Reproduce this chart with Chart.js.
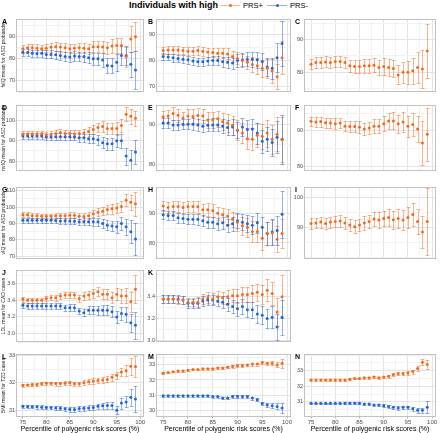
<!DOCTYPE html>
<html>
<head>
<meta charset="utf-8">
<script src="https://cdn.jsdelivr.net/npm/chart.js@4.4.1/dist/chart.umd.min.js"></script>
<style>
  body { margin: 0; width: 440px; height: 433px; background: #fff; position: relative; overflow: hidden;
         font-family: "Liberation Sans", Arial, sans-serif; }
  canvas { position: absolute; }
  .tag { position: absolute; font-weight: bold; font-size: 7px; line-height: 7px; color: #000; }
  .lg { position: absolute; white-space: nowrap; color: #000; }
  .key { position: absolute; }
</style>
</head>
<body>
<div class="lg" style="left:129px;top:0px;font-size:9px;font-weight:bold;line-height:10px">Individuals with high</div>
<div class="key" style="left:220px;top:4.5px;width:20px;height:1.5px;background:rgba(242,107,30,0.5)"></div>
<div class="key" style="left:229px;top:4px;width:3px;height:3px;border-radius:2px;background:#F26B1E"></div>
<div class="lg" style="left:243px;top:1px;font-size:7.5px;line-height:9px">PRS+</div>
<div class="key" style="left:267px;top:4.5px;width:20px;height:1.5px;background:rgba(37,99,217,0.5)"></div>
<div class="key" style="left:276px;top:4px;width:3px;height:3px;border-radius:2px;background:#2563D9"></div>
<div class="lg" style="left:290px;top:1px;font-size:7.5px;line-height:9px">PRS-</div>
<script>
// percentile bins on the x axis
const pct = [75, 76, 77, 78, 79, 80, 81, 82, 83, 84, 85, 86, 87, 88, 89, 90, 91, 92, 93, 94, 95, 96, 97, 98, 99];
const xMajor = [75, 80, 85, 90, 95, 100];

// A: fsIQ, ASD probands
const aPlus = [84.5, 85.0, 85.0, 84.8, 84.5, 84.8, 85.2, 85.5, 85.3, 85.0, 84.5, 84.8, 85.0, 84.8, 84.5, 85.5, 85.5, 85.3, 85.0, 85.8, 86.0, 86.0, 81.0, 89.0, 90.0];
const aPlusErr = [1.8, 1.8, 1.8, 1.8, 1.8, 1.9, 1.9, 1.9, 2.0, 2.0, 2.0, 2.1, 2.2, 2.2, 2.3, 2.5, 2.6, 2.7, 2.8, 3.0, 3.2, 3.5, 4.5, 6.0, 6.5];
const aMinus = [83.0, 82.8, 82.5, 82.3, 82.5, 82.0, 82.0, 81.8, 81.5, 81.0, 80.8, 81.3, 81.0, 81.0, 80.5, 80.0, 80.0, 79.5, 77.0, 76.8, 78.5, 81.5, 81.5, 77.5, 75.0];
const aMinusErr = [1.6, 1.6, 1.7, 1.7, 1.7, 1.8, 1.8, 1.9, 2.0, 2.0, 2.1, 2.1, 2.2, 2.3, 2.4, 2.6, 2.8, 3.0, 3.2, 3.4, 3.8, 4.2, 4.5, 5.5, 8.5];
// B
const bPlus = [83.8, 84.0, 84.0, 84.0, 83.8, 83.5, 83.5, 83.8, 83.5, 83.2, 83.0, 82.8, 82.8, 82.5, 81.5, 80.8, 80.0, 79.3, 78.5, 78.0, 77.0, 77.0, 76.0, 73.8, 81.0];
const bPlusErr = [1.4, 1.4, 1.4, 1.5, 1.5, 1.5, 1.6, 1.6, 1.7, 1.7, 1.8, 1.9, 2.0, 2.1, 2.2, 2.3, 2.5, 2.6, 2.8, 3.0, 3.2, 3.5, 4.5, 4.8, 6.3];
const bMinus = [81.5, 81.3, 81.0, 80.8, 80.5, 80.3, 79.8, 79.5, 79.5, 79.8, 80.0, 80.0, 79.5, 79.3, 79.0, 80.0, 80.3, 80.5, 80.5, 80.3, 79.5, 77.5, 77.0, 81.0, 86.5];
const bMinusErr = [1.3, 1.3, 1.4, 1.4, 1.4, 1.5, 1.5, 1.6, 1.6, 1.7, 1.8, 1.8, 1.9, 2.0, 2.1, 2.3, 2.5, 2.7, 2.9, 3.0, 3.3, 3.5, 4.0, 5.5, 8.5];
// C
const cPlus = [82.5, 83.0, 83.0, 83.2, 83.0, 83.3, 83.3, 83.0, 82.0, 81.8, 81.8, 82.0, 82.0, 82.2, 81.5, 81.8, 81.5, 81.2, 79.2, 80.0, 80.0, 80.5, 81.5, 81.0, 86.5];
const cPlusErr = [1.5, 1.6, 1.6, 1.7, 1.7, 1.7, 1.8, 1.8, 1.9, 2.0, 2.0, 2.1, 2.2, 2.2, 2.3, 2.5, 2.6, 2.7, 2.9, 3.2, 3.6, 4.0, 4.6, 5.8, 8.2];
// D: nvIQ
const dPlus = [93.2, 93.3, 93.3, 93.3, 93.4, 93.0, 93.0, 93.5, 94.0, 93.5, 93.5, 93.3, 93.5, 93.8, 94.5, 95.5, 96.5, 97.0, 96.0, 96.0, 96.0, 97.5, 103.0, 102.0, 101.0];
const dPlusErr = [1.4, 1.4, 1.5, 1.5, 1.5, 1.5, 1.6, 1.6, 1.7, 1.7, 1.8, 1.8, 1.9, 2.0, 2.1, 2.3, 2.4, 2.5, 2.6, 2.8, 3.0, 3.2, 3.3, 3.6, 3.8];
const dMinus = [92.5, 92.5, 92.5, 92.5, 92.5, 92.0, 92.0, 92.0, 92.0, 92.0, 92.0, 92.0, 91.5, 91.5, 91.0, 91.0, 90.5, 89.0, 88.5, 88.5, 90.0, 90.0, 82.5, 80.5, 84.5];
const dMinusErr = [1.4, 1.4, 1.4, 1.5, 1.5, 1.5, 1.6, 1.6, 1.6, 1.7, 1.7, 1.8, 1.9, 2.0, 2.1, 2.2, 2.4, 2.6, 2.8, 3.0, 3.2, 3.5, 4.2, 5.0, 5.8];
// E
const ePlus = [91.8, 92.0, 92.6, 92.2, 91.5, 92.0, 91.9, 92.1, 92.0, 91.0, 91.0, 91.3, 90.6, 90.3, 89.7, 88.5, 87.8, 86.5, 86.3, 87.3, 87.0, 87.8, 86.3, 87.5, 86.2];
const ePlusErr = [1.5, 1.5, 1.6, 1.6, 1.6, 1.7, 1.7, 1.8, 1.8, 1.9, 1.9, 2.0, 2.1, 2.2, 2.3, 2.4, 2.5, 2.6, 2.7, 2.9, 3.1, 3.3, 3.6, 4.2, 5.5];
const eMinus = [90.3, 90.3, 89.8, 89.8, 90.0, 90.0, 90.0, 89.8, 89.5, 89.7, 89.8, 89.8, 89.5, 89.2, 89.3, 88.5, 89.3, 88.7, 88.8, 87.8, 85.8, 86.3, 85.5, 86.8, 86.3];
const eMinusErr = [1.2, 1.2, 1.2, 1.3, 1.3, 1.3, 1.4, 1.4, 1.5, 1.5, 1.6, 1.6, 1.7, 1.8, 1.9, 2.0, 2.2, 2.3, 2.5, 2.6, 2.8, 3.0, 3.3, 4.0, 6.0];
// F
const fPlus = [92.7, 92.5, 92.6, 92.3, 92.2, 92.0, 92.2, 91.3, 91.2, 91.2, 91.0, 90.5, 90.8, 91.3, 91.3, 92.0, 92.8, 92.8, 92.0, 92.5, 91.3, 91.8, 90.5, 86.5, 89.0];
const fPlusErr = [1.3, 1.3, 1.4, 1.4, 1.4, 1.5, 1.5, 1.5, 1.6, 1.6, 1.7, 1.7, 1.8, 1.9, 2.0, 2.1, 2.2, 2.4, 2.6, 2.8, 3.0, 3.3, 3.7, 6.3, 7.5];
// G: vIQ
const gPlus = [95.3, 95.3, 94.8, 94.8, 94.5, 94.5, 94.5, 94.8, 94.8, 94.8, 95.0, 95.0, 94.5, 94.3, 94.8, 96.0, 96.8, 97.5, 98.5, 99.0, 99.5, 100.4, 104.2, 103.0, 102.0];
const gPlusErr = [1.5, 1.5, 1.5, 1.5, 1.6, 1.6, 1.6, 1.7, 1.7, 1.8, 1.8, 1.9, 2.0, 2.0, 2.1, 2.2, 2.4, 2.6, 2.8, 3.0, 3.2, 3.4, 3.6, 4.5, 7.5];
const gMinus = [92.0, 92.0, 92.0, 92.0, 92.0, 92.0, 92.0, 91.8, 91.5, 91.5, 91.5, 91.3, 91.0, 91.0, 91.0, 91.0, 91.0, 90.0, 89.0, 88.5, 88.0, 90.0, 88.0, 85.0, 80.5];
const gMinusErr = [1.5, 1.5, 1.5, 1.5, 1.6, 1.6, 1.6, 1.7, 1.7, 1.8, 1.8, 1.9, 2.0, 2.1, 2.2, 2.4, 2.6, 2.8, 3.0, 3.3, 3.6, 4.0, 5.0, 7.0, 10.0];
// H
const hPlus = [92.5, 92.0, 92.3, 92.3, 92.0, 92.3, 92.3, 92.2, 91.2, 91.2, 91.0, 90.0, 89.5, 89.0, 88.0, 87.0, 85.8, 85.3, 83.9, 83.9, 81.6, 83.2, 83.4, 81.3, 83.2];
const hPlusErr = [1.8, 1.8, 1.9, 1.9, 2.0, 2.0, 2.0, 2.1, 2.1, 2.2, 2.3, 2.3, 2.4, 2.5, 2.6, 2.8, 3.0, 3.2, 3.4, 3.6, 3.8, 4.0, 4.2, 4.5, 5.0];
const hMinus = [89.5, 89.3, 89.3, 88.5, 88.3, 88.0, 88.0, 88.0, 87.5, 87.0, 87.0, 86.5, 86.8, 86.0, 86.5, 87.5, 87.0, 86.5, 86.0, 86.8, 85.3, 83.2, 83.7, 84.2, 89.7];
const hMinusErr = [1.5, 1.5, 1.6, 1.6, 1.6, 1.7, 1.7, 1.8, 1.8, 1.9, 1.9, 2.0, 2.1, 2.2, 2.3, 2.5, 2.7, 2.9, 3.1, 3.3, 3.6, 4.0, 4.5, 5.0, 8.0];
// I
const iPlus = [91.3, 91.5, 91.8, 91.3, 91.8, 92.0, 92.2, 91.5, 90.8, 90.3, 90.8, 91.5, 92.0, 92.8, 92.5, 93.0, 93.3, 92.6, 93.0, 92.5, 93.3, 94.3, 92.0, 88.5, 92.0];
const iPlusErr = [1.7, 1.7, 1.8, 1.8, 1.8, 1.9, 1.9, 2.0, 2.0, 2.1, 2.1, 2.2, 2.3, 2.4, 2.5, 2.6, 2.8, 3.0, 3.2, 3.4, 3.6, 3.8, 4.2, 5.2, 11.0];
// J: LDL, CAD cases
const jPlus = [3.41, 3.40, 3.40, 3.40, 3.40, 3.42, 3.43, 3.43, 3.45, 3.46, 3.46, 3.46, 3.42, 3.45, 3.46, 3.48, 3.50, 3.47, 3.47, 3.43, 3.47, 3.45, 3.45, 3.38, 3.53];
const jPlusErr = [0.03, 0.03, 0.03, 0.03, 0.03, 0.03, 0.03, 0.035, 0.035, 0.035, 0.04, 0.04, 0.04, 0.045, 0.05, 0.05, 0.055, 0.06, 0.06, 0.065, 0.07, 0.08, 0.09, 0.12, 0.17];
const jMinus = [3.34, 3.33, 3.33, 3.33, 3.33, 3.33, 3.33, 3.33, 3.33, 3.31, 3.31, 3.31, 3.27, 3.25, 3.28, 3.28, 3.28, 3.28, 3.28, 3.26, 3.20, 3.24, 3.23, 3.13, 3.10];
const jMinusErr = [0.03, 0.03, 0.03, 0.03, 0.03, 0.03, 0.03, 0.035, 0.035, 0.035, 0.04, 0.04, 0.04, 0.045, 0.05, 0.05, 0.055, 0.06, 0.06, 0.065, 0.07, 0.08, 0.09, 0.11, 0.16];
// K
const kPlus = [3.38, 3.38, 3.38, 3.37, 3.37, 3.35, 3.35, 3.35, 3.38, 3.39, 3.38, 3.40, 3.39, 3.40, 3.41, 3.41, 3.42, 3.42, 3.43, 3.44, 3.42, 3.46, 3.43, 3.26, 3.40];
const kPlusErr = [0.04, 0.04, 0.04, 0.04, 0.04, 0.04, 0.04, 0.045, 0.045, 0.05, 0.05, 0.05, 0.055, 0.06, 0.06, 0.065, 0.07, 0.07, 0.075, 0.08, 0.09, 0.1, 0.11, 0.13, 0.2];
const kMinus = [3.38, 3.38, 3.38, 3.38, 3.37, 3.34, 3.34, 3.34, 3.36, 3.37, 3.37, 3.36, 3.35, 3.33, 3.31, 3.29, 3.31, 3.28, 3.28, 3.24, 3.23, 3.20, 3.21, 3.12, 3.21];
const kMinusErr = [0.04, 0.04, 0.04, 0.04, 0.04, 0.04, 0.04, 0.045, 0.045, 0.05, 0.05, 0.05, 0.055, 0.06, 0.06, 0.065, 0.07, 0.07, 0.075, 0.08, 0.085, 0.09, 0.1, 0.12, 0.16];
// L: BMI, T2D cases
const lPlus = [31.91, 31.92, 31.93, 31.94, 31.96, 31.98, 31.98, 31.97, 31.97, 31.98, 32.0, 31.96, 31.96, 32.0, 32.04, 32.06, 32.08, 32.1, 32.12, 32.2, 32.27, 32.39, 32.44, 32.6, 32.59];
const lPlusErr = [0.05, 0.05, 0.05, 0.06, 0.06, 0.06, 0.06, 0.07, 0.07, 0.07, 0.08, 0.08, 0.08, 0.09, 0.09, 0.1, 0.1, 0.11, 0.11, 0.12, 0.12, 0.15, 0.2, 0.32, 0.38];
const lMinus = [31.14, 31.13, 31.12, 31.12, 31.11, 31.1, 31.1, 31.08, 31.07, 31.05, 31.03, 31.02, 31.06, 31.07, 31.08, 31.1, 31.14, 31.16, 31.17, 31.17, 31.0, 31.26, 31.3, 31.47, 31.41];
const lMinusErr = [0.05, 0.05, 0.05, 0.06, 0.06, 0.06, 0.06, 0.07, 0.07, 0.07, 0.08, 0.08, 0.08, 0.09, 0.09, 0.1, 0.1, 0.11, 0.12, 0.13, 0.15, 0.2, 0.2, 0.32, 0.47];
// M
const mPlus = [32.45, 32.5, 32.55, 32.6, 32.6, 32.65, 32.7, 32.7, 32.75, 32.75, 32.75, 32.8, 32.8, 32.85, 32.9, 32.95, 32.95, 33.0, 33.05, 33.05, 33.15, 33.1, 33.1, 33.0, 33.1];
const mPlusErr = [0.05, 0.05, 0.05, 0.05, 0.05, 0.05, 0.06, 0.06, 0.06, 0.06, 0.07, 0.07, 0.07, 0.08, 0.08, 0.08, 0.09, 0.09, 0.1, 0.1, 0.11, 0.12, 0.13, 0.16, 0.3];
const mMinus = [30.95, 30.95, 30.95, 30.95, 30.95, 30.95, 30.95, 30.95, 30.95, 30.95, 30.9, 30.9, 30.8, 30.8, 30.9, 30.9, 30.9, 30.9, 30.8, 30.7, 30.45, 30.35, 30.3, 30.25, 30.15];
const mMinusErr = [0.05, 0.05, 0.05, 0.05, 0.05, 0.05, 0.06, 0.06, 0.06, 0.06, 0.07, 0.07, 0.07, 0.08, 0.08, 0.08, 0.09, 0.09, 0.1, 0.1, 0.11, 0.12, 0.15, 0.2, 0.35];
// N
const nPlus = [32.4, 32.4, 32.4, 32.4, 32.4, 32.4, 32.4, 32.4, 32.45, 32.5, 32.5, 32.55, 32.55, 32.6, 32.55, 32.6, 32.65, 32.75, 32.8, 32.8, 32.85, 32.95, 33.15, 33.55, 33.4];
const nPlusErr = [0.05, 0.05, 0.05, 0.05, 0.05, 0.05, 0.05, 0.06, 0.06, 0.06, 0.06, 0.07, 0.07, 0.07, 0.08, 0.08, 0.09, 0.09, 0.1, 0.1, 0.11, 0.13, 0.16, 0.2, 0.3];
const nMinus = [30.9, 30.9, 30.9, 30.9, 30.9, 30.9, 30.9, 30.9, 30.9, 30.9, 30.9, 30.85, 30.85, 30.8, 30.8, 30.75, 30.7, 30.65, 30.6, 30.65, 30.65, 30.55, 30.45, 30.45, 30.65];
const nMinusErr = [0.05, 0.05, 0.05, 0.05, 0.05, 0.05, 0.05, 0.06, 0.06, 0.06, 0.06, 0.07, 0.07, 0.07, 0.08, 0.08, 0.09, 0.09, 0.1, 0.1, 0.11, 0.13, 0.15, 0.18, 0.4];

// y tick labels per panel
const ticksABC = [70, 80, 90];
const ticksC = [80, 90];
const ticksD = [80, 90, 100];
const ticksEF = [80, 90];
const ticksG = [70, 80, 90, 100, 110];
const ticksH = [80, 90];
const ticksI = [90, 100];
const ticksJ = [3.0, 3.2, 3.4, 3.6];
const ticksK = [3.0, 3.2, 3.4];
const ticksLN = [31, 32, 33];
const ticksM = [30, 31, 32, 33];

const PLUS_PT = '#F26B1E', PLUS_BAR = 'rgba(242,107,30,0.5)';
const MINUS_PT = '#2563D9', MINUS_BAR = 'rgba(37,99,217,0.5)';

// plot-area boxes in page pixels
const colX = [[17, 145], [157, 292], [305, 437]];
const rowY = [[17, 95], [103, 174], [185, 262], [268, 345], [352, 417]];
const tagX = [2, 148, 295];
const AXW = 16, XH = 16;

const panels = [
  { tag: 'A', r: 0, c: 0, lim: [65, 98], ticks: ticksABC, title: 'fsIQ mean for ASD probands', plus: [aPlus, aPlusErr], minus: [aMinus, aMinusErr] },
  { tag: 'B', r: 0, c: 1, lim: [68, 95.8], ticks: ticksABC, plus: [bPlus, bPlusErr], minus: [bMinus, bMinusErr] },
  { tag: 'C', r: 0, c: 2, lim: [74, 96.3], ticks: ticksC, plus: [cPlus, cPlusErr] },
  { tag: 'D', r: 1, c: 0, lim: [75.2, 107.5], ticks: ticksD, title: 'nvIQ mean for ASD probands', plus: [dPlus, dPlusErr], minus: [dMinus, dMinusErr] },
  { tag: 'E', r: 1, c: 1, lim: [78.5, 94.7], ticks: ticksEF, plus: [ePlus, ePlusErr], minus: [eMinus, eMinusErr] },
  { tag: 'F', r: 1, c: 2, lim: [78.6, 97.3], ticks: ticksEF, plus: [fPlus, fPlusErr] },
  { tag: 'G', r: 2, c: 0, lim: [68.3, 112.3], ticks: ticksG, title: 'vIQ mean for ASD probands', plus: [gPlus, gPlusErr], minus: [gMinus, gMinusErr] },
  { tag: 'H', r: 2, c: 1, lim: [74.6, 98.9], ticks: ticksH, plus: [hPlus, hPlusErr], minus: [hMinus, hMinusErr] },
  { tag: 'I', r: 2, c: 2, lim: [79.6, 103.4], ticks: ticksI, plus: [iPlus, iPlusErr] },
  { tag: 'J', r: 3, c: 0, lim: [2.9, 3.76], ticks: ticksJ, title: 'LDL mean for CAD cases', plus: [jPlus, jPlusErr], minus: [jMinus, jMinusErr] },
  { tag: 'K', r: 3, c: 1, lim: [2.983, 3.646], ticks: ticksK, plus: [kPlus, kPlusErr], minus: [kMinus, kMinusErr] },
  { tag: 'L', r: 4, c: 0, lim: [30.75, 33.05], ticks: ticksLN, title: 'BMI mean for T2D cases', plus: [lPlus, lPlusErr], minus: [lMinus, lMinusErr] },
  { tag: 'M', r: 4, c: 1, lim: [29.55, 33.72], ticks: ticksM, plus: [mPlus, mPlusErr], minus: [mMinus, mMinusErr] },
  { tag: 'N', r: 4, c: 2, lim: [30.02, 34.08], ticks: ticksLN, plus: [nPlus, nPlusErr], minus: [nMinus, nMinusErr] }
];

// error bars drawn under the points, through the chart's scales
const errorBars = {
  id: 'errorBars',
  beforeDatasetsDraw(chart) {
    const { ctx, chartArea: a, scales: { x, y } } = chart;
    ctx.save();
    ctx.beginPath();
    ctx.rect(a.left, a.top, a.right - a.left, a.bottom - a.top);
    ctx.clip();
    ctx.lineWidth = 1;
    chart.data.datasets.forEach(ds => {
      ctx.strokeStyle = ds.barColor;
      ds.data.forEach((p, i) => {
        const e = ds.errs[i];
        const px = Math.round(x.getPixelForValue(p.x)) + 0.5;
        const w = x.getPixelForValue(p.x + 0.4) - x.getPixelForValue(p.x);
        const lo = Math.round(y.getPixelForValue(p.y - e)) + 0.5;
        const hi = Math.round(y.getPixelForValue(p.y + e)) + 0.5;
        ctx.beginPath();
        ctx.moveTo(px, lo); ctx.lineTo(px, hi);
        ctx.moveTo(px - w, lo); ctx.lineTo(px + w, lo);
        ctx.moveTo(px - w, hi); ctx.lineTo(px + w, hi);
        ctx.stroke();
      });
    });
    ctx.restore();
  }
};

const panelBorder = {
  id: 'panelBorder',
  afterDraw(chart) {
    const { ctx, chartArea: a } = chart;
    ctx.save();
    ctx.strokeStyle = '#C2C2C2';
    ctx.lineWidth = 1;
    ctx.strokeRect(Math.round(a.left) - 0.5, Math.round(a.top) + 0.5, Math.round(a.right - a.left) + 1, Math.round(a.bottom - a.top) - 1);
    ctx.restore();
  }
};

function series(label, pair, pt, bar) {
  return {
    label,
    data: pct.map((x, i) => ({ x, y: pair[0][i] })),
    errs: pair[1],
    barColor: bar,
    pointRadius: 1.5,
    pointBackgroundColor: pt,
    pointBorderWidth: 0,
    showLine: false
  };
}

function withMinor(major, lo, hi) {
  const step = major[1] - major[0];
  const out = [];
  for (let v = major[0] - step; v <= major[major.length - 1] + step + 1e-9; v += step / 2) {
    const r = Math.round(v * 1000) / 1000;
    if (r >= lo && r <= hi) out.push(r);
  }
  return out;
}

const isIn = (list, v) => list.some(t => Math.abs(t - v) < 1e-6);
const xAll = withMinor(xMajor, 73.75, 100.6);

panels.forEach(p => {
  const [x0, x1] = colX[p.c];
  const [y0, y1] = rowY[p.r];
  const bottom = p.r === 4;
  const W = x1 - x0 + AXW + 2;
  const H = y1 - y0 + 2 + (bottom ? XH : 1);
  const cv = document.createElement('canvas');
  cv.width = W; cv.height = H;
  cv.style.left = (x0 - AXW) + 'px';
  cv.style.top = (y0 - 2) + 'px';
  cv.style.width = W + 'px';
  cv.style.height = H + 'px';
  document.body.appendChild(cv);

  const tag = document.createElement('div');
  tag.className = 'tag';
  tag.textContent = p.tag;
  tag.style.left = tagX[p.c] + 'px';
  tag.style.top = (y0 + 1) + 'px';
  document.body.appendChild(tag);

  const yAll = withMinor(p.ticks, p.lim[0], p.lim[1]);
  const dec = p.ticks[1] - p.ticks[0] < 1 ? 1 : 0;
  const datasets = [];
  if (p.plus) datasets.push(series('PRS+', p.plus, PLUS_PT, PLUS_BAR));
  if (p.minus) datasets.push(series('PRS-', p.minus, MINUS_PT, MINUS_BAR));

  new Chart(cv, {
    type: 'scatter',
    data: { datasets },
    options: {
      responsive: false,
      animation: false,
      devicePixelRatio: 1,
      layout: { padding: { top: 2, right: 2, left: 0, bottom: 0 } },
      plugins: { legend: { display: false }, tooltip: { enabled: false } },
      scales: {
        x: {
          type: 'linear',
          min: 73.75,
          max: 100.6,
          afterBuildTicks: s => { s.ticks = xAll.map(v => ({ value: v })); },
          afterFit: s => { s.height = bottom ? XH : 1; },
          border: { display: false },
          grid: {
            color: c => isIn(xMajor, c.tick.value) ? '#E4E4E4' : '#F2F2F2',
            drawTicks: bottom,
            tickLength: 1.5,
            tickColor: c => isIn(xMajor, c.tick.value) ? '#B8B8B8' : 'rgba(0,0,0,0)'
          },
          ticks: {
            display: bottom,
            autoSkip: false,
            maxRotation: 0,
            padding: 0,
            color: '#4D4D4D',
            font: { size: 6, family: 'Liberation Sans' },
            callback: v => isIn(xMajor, v) ? String(v) : ''
          },
          title: {
            display: bottom,
            text: 'Percentile of polygenic risk scores (%)',
            color: '#000',
            padding: 0,
            font: { size: 7, family: 'Liberation Sans' }
          }
        },
        y: {
          min: p.lim[0],
          max: p.lim[1],
          afterBuildTicks: s => { s.ticks = yAll.map(v => ({ value: v })); },
          afterFit: s => { s.width = AXW; },
          border: { display: false },
          grid: {
            color: c => isIn(p.ticks, c.tick.value) ? '#E4E4E4' : '#F2F2F2',
            tickLength: 1.5,
            tickColor: c => isIn(p.ticks, c.tick.value) ? '#B8B8B8' : 'rgba(0,0,0,0)'
          },
          ticks: {
            autoSkip: false,
            padding: 0.5,
            color: '#4D4D4D',
            font: { size: 5.5, family: 'Liberation Sans' },
            callback: v => isIn(p.ticks, v) ? v.toFixed(dec) : ''
          },
          title: {
            display: !!p.title,
            text: p.title || '',
            color: '#1A1A1A',
            padding: 0,
            font: { size: 5, family: 'Liberation Sans' }
          }
        }
      }
    },
    plugins: [errorBars, panelBorder]
  });
});
</script>
</body>
</html>
